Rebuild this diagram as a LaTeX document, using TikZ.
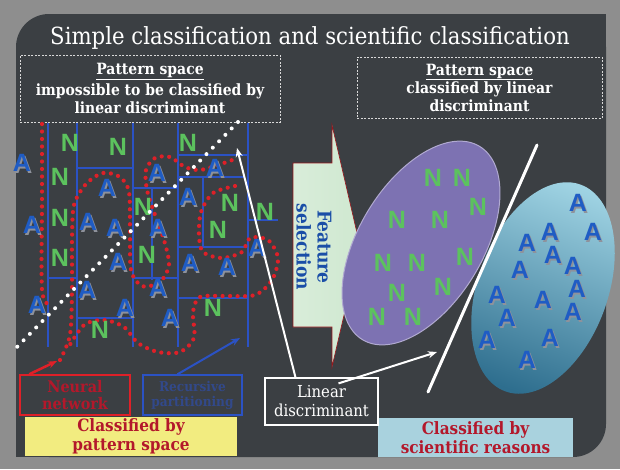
\documentclass[tikz,border=0pt]{standalone}
\usepackage{fontspec}
\newfontfamily\slab[FakeStretch=0.9]{DejaVu Serif}
\newfontfamily\glyphs{Liberation Sans}
\usetikzlibrary{arrows.meta}
\definecolor{frame}{HTML}{8E8E8E}
\definecolor{panel}{HTML}{3B3F43}
\definecolor{Ablue}{HTML}{1F5CC4}
\definecolor{Ashade}{HTML}{8E929C}
\definecolor{Ngreen}{HTML}{5CC25E}
\definecolor{gridblue}{HTML}{2B52C4}
\definecolor{reddot}{HTML}{DE2028}
\definecolor{darkred}{HTML}{B3182B}
\definecolor{yellowfill}{HTML}{F2EC80}
\definecolor{ltblue}{HTML}{A9D2DE}
\definecolor{lilac}{HTML}{7D72B2}
\definecolor{mint}{HTML}{CFE8D0}
\definecolor{tealdark}{HTML}{2E6E8E}
\definecolor{teallight}{HTML}{9FD3E3}
\tikzset{
  dashbox/.style={draw=white!85!black,dash pattern=on 2pt off 1.5pt,line width=.7pt,text=white,align=center,inner sep=0pt,font=\slab\bfseries\fontsize{15.5}{18}\selectfont},
  letA/.style={font=\glyphs\bfseries\fontsize{25}{25}\selectfont,text=Ablue,inner sep=0pt},
  shadeA/.style={letA,text=Ashade},
  letN/.style={font=\glyphs\bfseries\fontsize{25}{25}\selectfont,text=Ngreen,inner sep=0pt},
  grid/.style={draw=gridblue,line width=1.3pt},
  reddots/.style={draw=reddot,line width=4.2pt,line cap=round,dash pattern=on 0pt off 7.5pt},
  whitedots/.style={draw=white,line width=4pt,line cap=round,dash pattern=on 0pt off 9pt},
  tagbox/.style={align=center,inner sep=0pt,font=\slab\bfseries\fontsize{16}{17.5}\selectfont},
  pointer/.style={-{Stealth[length=9pt,width=7pt]},line width=2pt}
}
\begin{document}
\begin{tikzpicture}[x=1pt,y=-1pt]
\useasboundingbox (0,0) rectangle (620,469);
\fill[frame] (0,0) rectangle (620,469);
\fill[panel] (16,14) [rounded corners=33pt] rectangle (606,457);
\fill[panel] (560,14) rectangle (606,60);\fill[panel] (16,410) rectangle (62,457);
\node[text=white,font=\slab\fontsize{23.6}{26}\selectfont] (title) at (310,38) {Simple classification and scientific classification};
\node[dashbox,minimum width=260pt,minimum height=67pt] (lbox) at (150,88.5) {\underline{Pattern space}\\[3pt]impossible to be classified by\\linear discriminant};
\node[dashbox,minimum width=245pt,minimum height=61pt] (rbox) at (479.5,87.5) {\underline{Pattern space}\\classified by linear\\discriminant};
% partition of the pattern space
\foreach \x in {48,77,133,178,248} \draw[grid] (\x,123) -- (\x,347);
\foreach \xa/\xb/\y in {77/133/168,178/248/155,178/245/177,133/178/188,48/77/278,133/178/278,178/248/247,248/278/220,178/248/298,77/133/318} \draw[grid] (\xa,\y) -- (\xb,\y);
\foreach \x/\ya/\yb in {152/188/280,203/177/247} \draw[grid] (\x,\ya) -- (\x,\yb);
% neural network boundaries
\draw[reddots] plot[smooth] coordinates {(42,124) (42,200) (42,290) (50,305)};
\draw[reddots] plot[smooth] coordinates {(60,360) (70,335) (72,290) (72,240) (74,205) (86,184) (103,173) (120,177) (129,192) (130,230) (131,270) (142,286) (160,282) (169,265) (164,240) (155,215) (147,190) (146,170) (155,158) (170,157) (185,167) (200,170) (218,165) (238,158)};
\draw[reddots] plot[smooth] coordinates {(235,186) (213,193) (201,212) (199,235) (203,252) (222,258) (242,252) (250,238) (268,240) (278,258) (272,280) (255,295) (225,296) (200,297) (193,312) (194,338) (180,352) (158,352) (138,343) (124,327) (104,320) (84,325) (68,348)};
\foreach \x/\y [count=\i] in {22/163,157/173,215/168,107/188,188/197,32/225,88/222,115/228,158/228,257/248,118/262,190/263,227/267,87/290,158/288,37/305,125/308,170/318}{\node[shadeA] (lsa\i) at (\x+1.5,\y+1.5) {A};\node[letA] (la\i) at (\x,\y) {A};}
\foreach \x/\y [count=\i] in {70/143,118/147,188/143,60/177,143/207,230/203,265/212,60/218,218/230,60/258,147/255,213/308,100/330} \node[letN] (ln\i) at (\x,\y) {N};
\draw[whitedots] (238,122) -- (17,347);
% feature selection
\shadedraw[left color=mint!80!white,right color=mint,draw=reddot!70!black,line width=.6pt] (293,163) -- (332,163) -- (332,125) -- (360,246) -- (332,367) -- (332,327) -- (293,327) -- cycle;
\node[rotate=-90,text=Ablue!85!black,align=center,font=\slab\bfseries\fontsize{19}{21}\selectfont] (feat) at (314,247) {Feature\\selection};
% separated classes
\filldraw[lilac,draw=lilac!60!white,line width=1pt,rotate around={58.8:(421,243)}] (421,243) ellipse [x radius=113,y radius=62];
\shade[top color=teallight,bottom color=tealdark,shading angle=-20] (543,288) [rotate around={70:(543,288)}] ellipse [x radius=110,y radius=65];
\foreach \x/\y [count=\i] in {433/178,462/178,478/207,397/220,440/220,383/263,417/263,465/257,397/293,443/287,377/317,413/317} \node[letN] (rn\i) at (\x,\y) {N};
\foreach \x/\y [count=\i] in {578/203,550/232,593/232,527/243,553/255,520/270,573/266,577/289,497/295,543/300,507/318,573/312,487/340,550/338,527/360}{\node[shadeA] (rsa\i) at (\x+1.5,\y+1.5) {A};\node[letA] (ra\i) at (\x,\y) {A};}
\draw[white,line width=3pt,line cap=round] (537,145) -- (428,392);
% labels
\node[tagbox,draw=reddot,line width=1.5pt,text=darkred,minimum width=110pt,minimum height=40pt] (nnbox) at (75,395) {Neural\\network};
\node[tagbox,draw=gridblue,line width=1.5pt,text=gridblue!55!panel,font=\slab\bfseries\fontsize{13.5}{15}\selectfont,minimum width=99pt,minimum height=40pt] (rpbox) at (192.5,395) {Recursive\\partitioning};
\node[tagbox,fill=yellowfill,text=darkred,font=\slab\bfseries\fontsize{17}{18.5}\selectfont,minimum width=212pt,minimum height=39pt] (ybox) at (131,436.5) {Classified by\\pattern space};
\node[tagbox,fill=ltblue,text=darkred,font=\slab\bfseries\fontsize{17}{18.5}\selectfont,minimum width=195pt,minimum height=39pt] (sbox) at (475.5,437.5) {Classified by\\scientific reasons};
\node[tagbox,draw=white,fill=panel,line width=1.2pt,text=white,font=\slab\fontsize{16.5}{19}\selectfont,minimum width=113pt,minimum height=47pt] (ldbox) at (321.5,401.5) {Linear\\discriminant};
\coordinate (nnend) at (57,361);\coordinate (rpend) at (240,338);
\coordinate (ldleft) at (237,148);\coordinate (ldright) at (437,352);
\draw[pointer,draw=reddot,line width=2.5pt] ([xshift=10pt]nnbox.north west) -- (nnend);
\draw[pointer,draw=gridblue] ([xshift=-15pt]rpbox.north) -- (rpend);
\draw[pointer,draw=white] ([xshift=-26pt]ldbox.north) -- (ldleft);
\draw[pointer,draw=white] ([xshift=17pt,yshift=-6pt]ldbox.north) -- (ldright);
\end{tikzpicture}
\end{document}
